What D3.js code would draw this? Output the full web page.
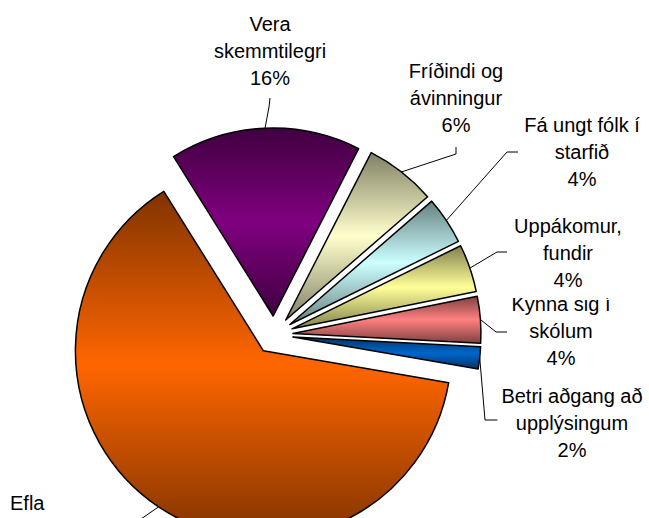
<!DOCTYPE html>
<html>
<head>
<meta charset="utf-8">
<script src="https://cdn.jsdelivr.net/npm/d3@7"></script>
<style>
  body { margin: 0; background: #fff; }
  svg { display: block; }
</style>
</head>
<body>
<svg id="chart"></svg>
<script>
// data (clockwise from the purple slice)
const categories = ["Vera skemmtilegri", "Fríðindi og ávinningur", "Fá ungt fólk í starfið",
  "Uppákomur, fundir", "Kynna sig í skólum", "Betri aðgang að upplýsingum", "Efla"];
const shares = [16.4, 6.1, 4.1, 4.1, 4.0, 1.9, 63.4];
const labelLines = [["Vera", "skemmtilegri"], ["Fríðindi og", "ávinningur"], ["Fá ungt fólk í", "starfið"],
  ["Uppákomur,", "fundir"], ["Kynna sig í", "skólum"], ["Betri aðgang að", "upplýsingum"], ["Efla"]];
const showPercent = [true, true, true, true, true, true, false];
const colors = ["#800080", "#ffffcc", "#ccffff", "#ffff99", "#ff8080", "#0066cc", "#ff6600"];

// layout of the labels (where Excel put them)
const labelLayout = [
  { x: 270, y: 31, anchor: "middle", elbow: [269, 107], end: [270, 98] },
  { x: 456, y: 78, anchor: "middle", elbow: [456, 154], end: [456, 147] },
  { x: 582, y: 132, anchor: "middle", elbow: [507, 152], end: [518, 152] },
  { x: 568, y: 233, anchor: "middle", elbow: [497, 252], end: [507, 252] },
  { x: 561, y: 311, anchor: "middle", elbow: [496, 332], end: [507, 332] },
  { x: 572, y: 403, anchor: "middle", elbow: [485, 420], end: [500, 420] },
  { x: 10, y: 510, anchor: "start", elbow: [125, 530], end: [110, 530] }
];

const width = 649, height = 518;
const cx = 274, cy = 335, radius = 188, explode = 19;
const lineGap = 27;

const svg = d3.select("#chart")
    .attr("width", width)
    .attr("height", height);

const defs = svg.append("defs");
colors.forEach((c, i) => {
    const dark = d3.interpolateRgb(c, "#000")(0.5);
    const g = defs.append("linearGradient")
        .attr("id", "grad" + i)
        .attr("x1", 0).attr("y1", 0)
        .attr("x2", 0).attr("y2", 1);
    g.append("stop").attr("offset", "0%").attr("stop-color", dark);
    g.append("stop").attr("offset", "50%").attr("stop-color", c);
    g.append("stop").attr("offset", "100%").attr("stop-color", dark);
});

const total = d3.sum(shares);
const startDeg = -32;
const pie = d3.pie()
    .sort(null)
    .value(d => d)
    .startAngle(startDeg * Math.PI / 180)
    .endAngle((startDeg + 360) * Math.PI / 180);

const arcs = pie(shares);
const arc = d3.arc().innerRadius(0).outerRadius(radius);

const mid = d => (d.startAngle + d.endAngle) / 2;

const plot = svg.append("g")
    .attr("transform", `translate(${cx},${cy})`);

plot.selectAll("path.slice")
    .data(arcs)
    .enter()
    .append("path")
    .attr("class", "slice")
    .attr("transform", d => `translate(${Math.sin(mid(d)) * explode},${-Math.cos(mid(d)) * explode})`)
    .attr("d", arc)
    .attr("fill", (d, i) => `url(#grad${i})`)
    .attr("stroke", "#000")
    .attr("stroke-width", 1.5)
    .attr("stroke-linejoin", "round");

// leader lines
const line = d3.line();
svg.selectAll("path.leader")
    .data(arcs)
    .enter()
    .append("path")
    .attr("class", "leader")
    .attr("d", (d, i) => {
        const a = mid(d);
        const start = [cx + Math.sin(a) * (radius + explode), cy - Math.cos(a) * (radius + explode)];
        return line([start, labelLayout[i].elbow, labelLayout[i].end]);
    })
    .attr("fill", "none")
    .attr("stroke", "#000")
    .attr("stroke-width", 1);

// labels, drawn last-to-first so the Uppákomur box sits over Kynna
const order = d3.range(categories.length).reverse();
order.forEach(i => {
    const pos = labelLayout[i];
    const lines = labelLines[i].slice();
    if (showPercent[i]) lines.push(Math.round(shares[i] / total * 100) + "%");

    const g = svg.append("g").attr("class", "label");
    const box = g.append("rect").attr("fill", "#fff");
    const txt = g.append("text")
        .attr("font-family", "'Liberation Sans', Arial, sans-serif")
        .attr("font-size", 20)
        .attr("fill", "#000")
        .attr("text-anchor", pos.anchor);
    lines.forEach((t, k) => {
        txt.append("tspan")
            .attr("x", pos.x)
            .attr("y", pos.y + k * lineGap)
            .text(t);
    });
    const bb = txt.node().getBBox();
    box.attr("x", bb.x - 4)
        .attr("y", bb.y - 3)
        .attr("width", bb.width + 8)
        .attr("height", bb.height + 10);
});
</script>
</body>
</html>
